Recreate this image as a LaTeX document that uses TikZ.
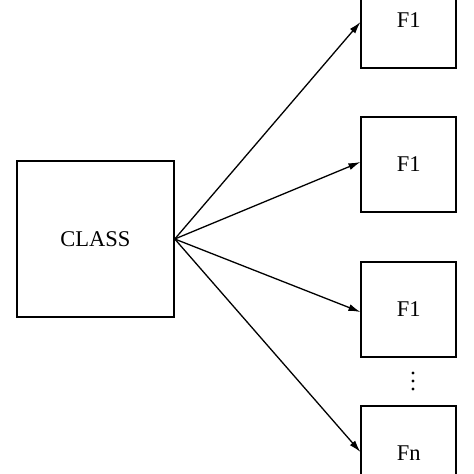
\documentclass[tikz,border=0pt]{standalone}
\usepackage{fontspec}
\setmainfont{Liberation Serif}
\usetikzlibrary{arrows.meta}
\begin{document}
\begin{tikzpicture}[x=1pt,y=-1pt,
  box/.style={draw,line width=1.5pt,minimum width=95pt,minimum height=95pt,inner sep=0pt,font=\fontsize{22.5}{26}\selectfont},
  bigbox/.style={draw,line width=1.5pt,minimum width=157pt,minimum height=156pt,inner sep=0pt,font=\fontsize{22.5}{26}\selectfont},
  conn/.style={line width=1.3pt,-{Latex[length=12pt,width=7pt]}},
  dot/.style={circle,fill,inner sep=0pt,minimum size=3.2pt}]
\useasboundingbox (0,0) rectangle (474,474);
\clip (0,0) rectangle (474,474);
\node[bigbox] (class) at (95.5,239) {CLASS};
\node[box] (f1) at (408.7,20.5) {F1};
\node[box] (f2) at (408.7,164.5) {F1};
\node[box] (f3) at (408.7,309.5) {F1};
\node[box] (fn) at (408.7,453.5) {Fn};
\node[dot] (d1) at (413,373) {};
\node[dot] (d2) at (413,381) {};
\node[dot] (d3) at (413,389) {};
\draw[conn] (class.east) -- ([yshift=-1.5pt]f1.west);
\draw[conn] (class.east) -- ([yshift=2.5pt]f2.west);
\draw[conn] (class.east) -- ([yshift=-2.5pt]f3.west);
\draw[conn] (class.east) -- ([yshift=1.5pt]fn.west);
\end{tikzpicture}
\end{document}
